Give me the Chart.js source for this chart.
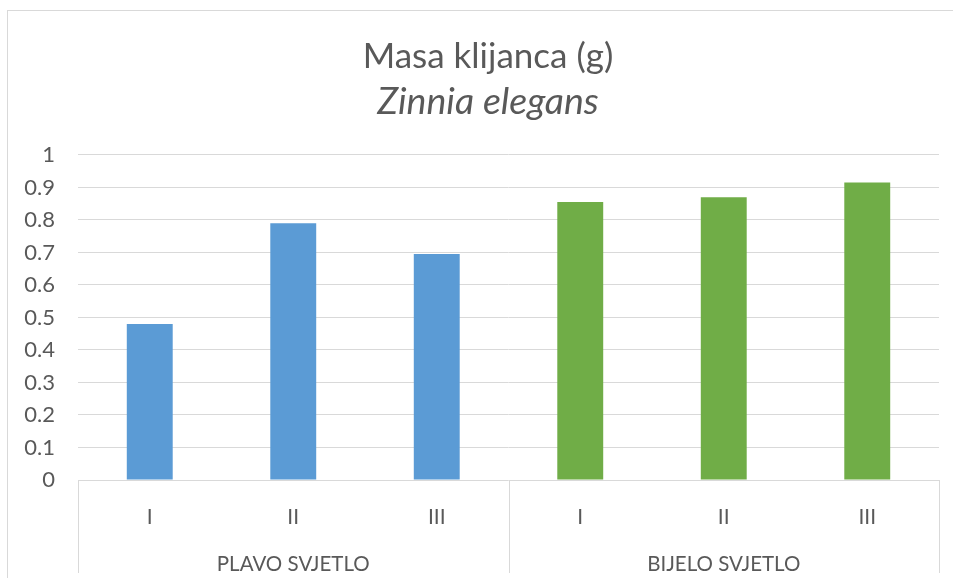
<!DOCTYPE html>
<html lang="hr">
<head>
  <meta charset="UTF-8" />
  <title>Masa klijanca (g)</title>
  <script src="https://cdn.jsdelivr.net/npm/chart.js"></script>
  <style>
    html, body { margin: 0; padding: 0; background: #fff; overflow: hidden; }
    #frame {
      position: absolute; left: 7px; top: 10px;
      width: 961px; height: 568px;
      border-left: 1px solid #d9d9d9; border-top: 1px solid #d9d9d9;
    }
    #chartBox { position: relative; width: 960px; height: 567px; }
  </style>
</head>
<body>
  <div id="frame">
    <div id="chartBox"><canvas id="massChart"></canvas></div>
  </div>

  <script>
    // podaci
    const groups = ['PLAVO SVJETLO', 'BIJELO SVJETLO'];
    const reps = ['I', 'II', 'III'];
    const plavoValues = [0.48, 0.79, 0.695];
    const bijeloValues = [0.855, 0.87, 0.915];
    const groupColors = ['#5B9BD5', '#70AD47'];
    const yTicks = [0, 0.1, 0.2, 0.3, 0.4, 0.5, 0.6, 0.7, 0.8, 0.9, 1];

    const labels = groups.flatMap(() => reps);
    const values = plavoValues.concat(bijeloValues);
    const colors = groups.flatMap((g, i) => reps.map(() => groupColors[i]));

    const txt = '#595959';
    const gridCol = '#d9d9d9';
    const fam = 'Lato, "Open Sans", sans-serif';

    // okomite crte izmedu grupa ispod osi
    const groupLines = {
      id: 'groupLines',
      afterDraw(chart) {
        const x2 = chart.scales.x2;
        const x = chart.scales.x;
        const w = (x2.right - x2.left) / groups.length;
        const c = chart.ctx;
        c.save();
        c.strokeStyle = gridCol;
        c.lineWidth = 1;
        for (let i = 0; i <= groups.length; i++) {
          const px = Math.round(x2.left + i * w) + 0.5;
          c.beginPath();
          c.moveTo(px, x.top);
          c.lineTo(px, chart.height - 5);
          c.stroke();
        }
        c.restore();
      }
    };

    new Chart(document.getElementById('massChart'), {
      type: 'bar',
      data: {
        labels: labels,
        datasets: [{
          label: 'Masa klijanca (g)',
          data: values,
          backgroundColor: colors,
          barPercentage: 0.32,
          categoryPercentage: 1
        }]
      },
      options: {
        responsive: true,
        maintainAspectRatio: false,
        animation: false,
        layout: { padding: 0 },
        plugins: {
          legend: { display: false },
          tooltip: { enabled: false },
          title: {
            display: true,
            text: 'Masa klijanca (g)',
            color: txt,
            font: { family: fam, size: 35, weight: 'normal', lineHeight: 1.2 },
            padding: { top: 25, bottom: 0 }
          },
          subtitle: {
            display: true,
            text: 'Zinnia elegans',
            color: txt,
            font: { family: fam, size: 37.5, style: 'italic', weight: 'normal', lineHeight: 1.2 },
            padding: { top: 1.5, bottom: 30.4 }
          }
        },
        scales: {
          y: {
            min: 0,
            max: 1,
            afterBuildTicks: s => { s.ticks = yTicks.map(v => ({ value: v })); },
            afterFit: s => { s.width = 70; },
            border: { display: false },
            grid: { color: gridCol, lineWidth: 1, drawTicks: false },
            ticks: {
              color: txt,
              padding: 23,
              font: { family: fam, size: 22 },
              callback: v => String(+v.toFixed(1))
            }
          },
          // prazan prostor desno od podrucja crtanja
          yr: {
            position: 'right',
            display: true,
            afterFit: s => { s.width = 29; },
            border: { display: false },
            grid: { display: false },
            ticks: { display: false }
          },
          x: {
            afterFit: s => { s.height = 50; },
            border: { display: false },
            grid: { display: false },
            ticks: {
              color: txt,
              padding: 17,
              maxRotation: 0,
              font: { family: fam, size: 21 }
            }
          },
          x2: {
            type: 'category',
            position: 'bottom',
            labels: groups,
            offset: true,
            afterFit: s => { s.height = 48; },
            border: { display: false },
            grid: { display: false },
            ticks: {
              color: txt,
              padding: 14,
              maxRotation: 0,
              font: { family: fam, size: 20.5 }
            }
          }
        }
      },
      plugins: [groupLines]
    });
  </script>
</body>
</html>
